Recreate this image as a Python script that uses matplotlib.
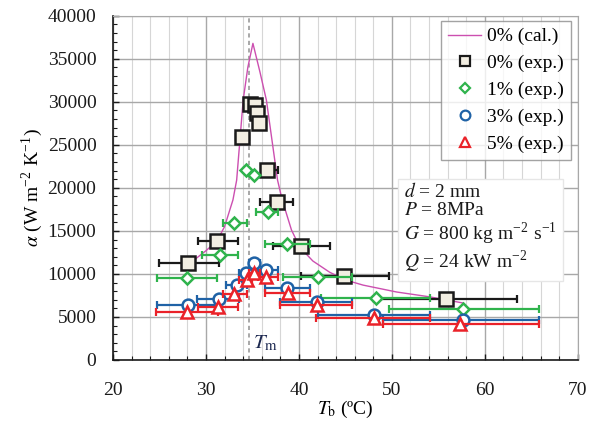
import matplotlib
matplotlib.use("Agg")
import matplotlib.pyplot as plt
from matplotlib.ticker import MultipleLocator
from matplotlib.lines import Line2D

plt.rcParams["font.family"] = ["Liberation Serif", "DejaVu Serif"]
plt.rcParams["mathtext.fontset"] = "stix"

# calculated curve, 0 %
t_cal = [28.0, 28.7, 30.0, 31.2, 32.0, 32.9, 33.3, 34.0, 34.5, 35.05, 35.8, 36.5,
         37.7, 38.2, 39.2, 40.1, 41.5, 43.3, 45.0, 46.9, 50.5, 54.1, 57.6]
a_cal = [11000, 11600, 12700, 13850, 15500, 18600, 20900, 30200, 34000, 36800, 33500, 30200,
         20900, 18600, 15100, 13100, 11500, 10200, 9300, 8700, 7900, 7330, 6630]

# 0 % (exp.)
t0 = [28.1, 31.2, 33.9, 34.7, 35.3, 35.5, 35.7, 36.6, 37.6, 40.2, 44.9, 55.8]
a0 = [11300, 13850, 25900, 29750, 29650, 28700, 27550, 22050, 18400, 13250, 9750, 7100]
t0_lo = [24.9, 29.1, 33.2, 34.5, 35.1, 35.3, 35.5, 36.0, 35.8, 37.2, 40.2, 48.1]
t0_hi = [31.4, 33.4, 34.6, 34.9, 35.5, 35.7, 35.9, 37.7, 39.4, 43.3, 49.7, 63.5]

# 1 % (exp.)
t1 = [28.0, 31.5, 33.0, 34.3, 35.2, 36.7, 38.7, 42.0, 48.3, 57.6]
a1 = [9550, 12200, 15950, 22050, 21500, 17250, 13450, 9700, 7200, 5950]
t1_lo = [24.7, 29.6, 31.8, 34.1, 35.0, 35.4, 36.3, 38.3, 42.4, 49.7]
t1_hi = [31.2, 33.4, 34.4, 34.5, 35.4, 37.8, 41.2, 45.7, 54.1, 65.8]

# 3 % (exp.)
t3 = [28.1, 31.4, 33.3, 34.3, 35.2, 36.5, 38.7, 41.9, 48.1, 57.6]
a3 = [6350, 7050, 8700, 10100, 11250, 10500, 8400, 6750, 5250, 4700]
t3_lo = [24.7, 29.0, 32.2, 33.6, 34.6, 35.6, 36.3, 38.0, 42.0, 49.0]
t3_hi = [31.3, 33.5, 34.4, 35.0, 35.8, 37.8, 41.2, 45.7, 54.1, 65.8]

# 5 % (exp.)
t5 = [28.0, 31.3, 33.0, 34.4, 35.2, 36.5, 38.8, 41.9, 48.1, 57.3]
a5 = [5600, 6150, 7650, 9300, 10100, 9650, 7800, 6400, 4900, 4200]
t5_lo = [24.6, 29.1, 31.8, 33.6, 34.6, 35.6, 36.3, 38.0, 41.8, 49.0]
t5_hi = [31.3, 33.4, 34.4, 35.0, 35.8, 37.8, 41.2, 45.7, 54.1, 65.8]

T_M = 34.6

PINK = "#cc4fb0"
BLACK = "#1a1a1a"
CREAM = "#f2eee2"
GREEN = "#2fb34c"
BLUE = "#1f62a6"
RED = "#ea2229"

fig = plt.figure(figsize=(5.95, 4.28), dpi=100)
ax = fig.add_axes([0.190, 0.159, 0.781, 0.804])

ax.set_xlim(20, 70)
ax.set_ylim(0, 40000)
ax.xaxis.set_major_locator(MultipleLocator(10))
ax.xaxis.set_minor_locator(MultipleLocator(2))
ax.yaxis.set_major_locator(MultipleLocator(5000))
ax.yaxis.set_minor_locator(MultipleLocator(1000))

ax.grid(which="minor", axis="x", color="#d6d6d6", linewidth=0.8, zorder=0)
ax.grid(which="major", axis="x", color="#a8a8a8", linewidth=1.0, zorder=0)
ax.grid(which="major", axis="y", color="#a8a8a8", linewidth=1.0, zorder=0)

ax.tick_params(which="both", direction="in", top=False, right=False,
               labelsize=14, colors=BLACK)
ax.tick_params(which="major", length=4, width=1)
ax.tick_params(which="minor", length=3, width=0.8)
ax.tick_params(axis="x", pad=16)
ax.tick_params(axis="y", pad=12)
for s in ("left", "bottom"):
    ax.spines[s].set_color(BLACK)
    ax.spines[s].set_linewidth(1.2)
for s in ("top", "right"):
    ax.spines[s].set_color("#a8a8a8")

ax.axvline(T_M, color="#9a9a9a", linewidth=1.2, linestyle=(0, (2.5, 2)), zorder=1)
ax.text(T_M + 0.5, 1300, r"$T_{\mathrm{m}}$", fontsize=15, color="#1c2850", zorder=6)

ax.plot(t_cal, a_cal, color=PINK, linewidth=1.0, zorder=2)


def draw(t, a, lo, hi, color, marker, ms, face, z):
    xerr = [[c - l for c, l in zip(t, lo)], [h - c for c, h in zip(t, hi)]]
    ax.errorbar(t, a, xerr=xerr, fmt="none", ecolor=color, elinewidth=1.6,
                capsize=3, capthick=1.6, zorder=z)
    ax.plot(t, a, linestyle="none", marker=marker, markersize=ms,
            markerfacecolor=face, markeredgecolor=color, markeredgewidth=1.8, zorder=z + 0.5)


draw(t0, a0, t0_lo, t0_hi, BLACK, "s", 9.5, CREAM, 3)
draw(t1, a1, t1_lo, t1_hi, GREEN, "D", 6.5, "white", 4)
draw(t3, a3, t3_lo, t3_hi, BLUE, "o", 8.5, "white", 5)
draw(t5, a5, t5_lo, t5_hi, RED, "^", 8.5, "white", 6)

handles = [
    Line2D([], [], color=PINK, linewidth=1.0),
    Line2D([], [], linestyle="none", marker="s", markersize=7, markerfacecolor=CREAM,
           markeredgecolor=BLACK, markeredgewidth=1.6),
    Line2D([], [], linestyle="none", marker="D", markersize=5, markerfacecolor="white",
           markeredgecolor=GREEN, markeredgewidth=1.6),
    Line2D([], [], linestyle="none", marker="o", markersize=7, markerfacecolor="white",
           markeredgecolor=BLUE, markeredgewidth=1.6),
    Line2D([], [], linestyle="none", marker="^", markersize=7, markerfacecolor="white",
           markeredgecolor=RED, markeredgewidth=1.6),
]
labels = ["0% (cal.)", "0% (exp.)", "1% (exp.)", "3% (exp.)", "5% (exp.)"]
leg = ax.legend(handles, labels, loc="upper right", bbox_to_anchor=(0.985, 0.985),
                fontsize=14, frameon=True, fancybox=False, handlelength=1.7,
                handletextpad=0.3, borderpad=0.35, labelspacing=0.47, borderaxespad=0)
leg.get_frame().set_edgecolor("#8c8c8c")
leg.get_frame().set_linewidth(1.0)
leg.set_zorder(10)

cond = ("$d$ = 2 mm\n"
        "$P$ = 8MPa\n"
        "$G$ = 800 kg m$^{\\mathregular{-2}}$ s$^{\\mathregular{-1}}$\n"
        "$Q$ = 24 kW m$^{\\mathregular{-2}}$")
ax.text(51.3, 20700, cond, fontsize=14, va="top", ha="left", linespacing=1.1,
        color=BLACK, zorder=9,
        bbox=dict(boxstyle="square,pad=0.3", facecolor="white", edgecolor="#e6e6e6"))

ax.set_xlabel(r"$T_{\mathrm{b}}$ (ºC)", fontsize=14, labelpad=0)
ax.set_ylabel(r"$\alpha$ (W m$^{\mathregular{-2}}$ K$^{\mathregular{-1}}$)", fontsize=14, labelpad=2)

fig.savefig("out.png", dpi=100)
